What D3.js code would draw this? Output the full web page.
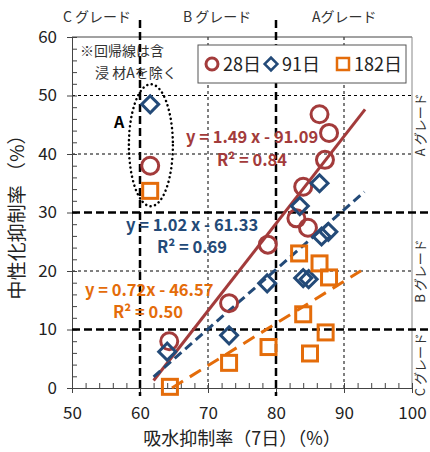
<!DOCTYPE html>
<html>
<head>
<meta charset="utf-8">
<script src="https://cdn.jsdelivr.net/npm/d3@7"></script>
<style>
  body { margin: 0; background: #fff; }
  svg text { font-family: "Noto Sans CJK JP", "Noto Sans", sans-serif; }
</style>
</head>
<body>
<div id="vis"></div>
<script>
// データ
const x28 = [61.5, 64.3, 73.1, 78.8, 83.0, 84.7, 84.0, 87.2, 87.8, 86.4];
const y28 = [38.0, 8.0, 14.5, 24.5, 29.0, 27.4, 34.4, 39.0, 43.6, 46.8];
const x91 = [61.5, 64.0, 73.1, 78.7, 83.5, 86.4, 86.7, 87.7, 84.0, 84.8];
const y91 = [48.5, 6.2, 9.0, 17.9, 31.1, 35.0, 25.9, 26.7, 18.8, 18.6];
const x182 = [61.5, 64.4, 73.1, 78.9, 83.4, 86.4, 87.8, 84.0, 87.3, 85.0];
const y182 = [33.7, 0.2, 4.3, 7.0, 23.0, 21.3, 18.9, 12.6, 9.5, 5.9];

const seriesNames = ['28日', '91日', '182日'];
const seriesColors = ['#a33b3b', '#234a78', '#e46c0a'];
// 回帰式 [傾き, 切片, x開始, x終了]
const fits = [
  [1.49, -91.09, 62, 93.1],
  [1.02, -61.33, 62, 93],
  [0.72, -46.57, 64.7, 92.5],
];
const fitLabels = [
  ['y = 1.49 x - 91.09', 'R² = 0.84'],
  ['y = 1.02 x - 61.33', 'R² = 0.69'],
  ['y = 0.72x - 46.57', 'R² = 0.50'],
];
const xTicks = [50, 60, 70, 80, 90, 100];
const yTicks = [0, 10, 20, 30, 40, 50, 60];

const WIDTH = 430;
const HEIGHT = 452;
const MARGIN = { top: 37, right: 18, bottom: 64, left: 72 };

const SVG = d3.select('#vis').append('svg')
  .attr('width', WIDTH).attr('height', HEIGHT);

const x = d3.scaleLinear().domain([50, 100]).range([MARGIN.left, WIDTH - MARGIN.right]);
const y = d3.scaleLinear().domain([0, 60]).range([HEIGHT - MARGIN.bottom, MARGIN.top]);

const x0 = x(50), x1 = x(100), y0 = y(0), y1 = y(60);

// 細いグリッド線
const grid = SVG.append('g');
[20, 40, 50].forEach((v) => {
  grid.append('line').attr('x1', x0).attr('x2', x1).attr('y1', y(v)).attr('y2', y(v))
    .attr('stroke', '#000').attr('stroke-width', 1).attr('stroke-dasharray', '3,3');
});
[70, 90].forEach((v) => {
  grid.append('line').attr('x1', x(v)).attr('x2', x(v)).attr('y1', y1).attr('y2', y0)
    .attr('stroke', '#000').attr('stroke-width', 1).attr('stroke-dasharray', '3,3');
});

// 枠
SVG.append('line').attr('x1', x0).attr('x2', x1).attr('y1', y1).attr('y2', y1)
  .attr('stroke', '#444').attr('stroke-width', 1);
SVG.append('line').attr('x1', x1).attr('x2', x1).attr('y1', y1).attr('y2', y0)
  .attr('stroke', '#888').attr('stroke-width', 1);

// 軸
const xAxis = d3.axisBottom(x).tickValues(d3.range(50, 101, 2)).tickSize(-5).tickFormat('');
SVG.append('g').attr('transform', `translate(0,${y0})`).call(xAxis)
  .call((g) => g.select('.domain').attr('stroke', '#444'))
  .call((g) => g.selectAll('.tick line').attr('stroke', '#444'));
SVG.append('g').attr('transform', `translate(0,${y0})`)
  .call(d3.axisBottom(x).tickValues(xTicks).tickSize(5).tickPadding(14))
  .call((g) => g.select('.domain').remove())
  .call((g) => g.selectAll('.tick line').attr('stroke', '#444'))
  .call((g) => g.selectAll('.tick text').attr('font-size', 17).attr('fill', '#222')
    .attr('font-family', '"Noto Sans", sans-serif'));

const yAxis = d3.axisLeft(y).tickValues(d3.range(0, 61, 2)).tickSize(-5).tickFormat('');
SVG.append('g').attr('transform', `translate(${x0},0)`).call(yAxis)
  .call((g) => g.select('.domain').attr('stroke', '#444'))
  .call((g) => g.selectAll('.tick line').attr('stroke', '#444'));
SVG.append('g').attr('transform', `translate(${x0},0)`)
  .call(d3.axisLeft(y).tickValues(yTicks).tickSize(5).tickPadding(10))
  .call((g) => g.select('.domain').remove())
  .call((g) => g.selectAll('.tick line').attr('stroke', '#444'))
  .call((g) => g.selectAll('.tick text').attr('font-size', 17).attr('fill', '#222')
    .attr('font-family', '"Noto Sans", sans-serif'));

// 太い破線（グレード境界）
const thick = SVG.append('g');
[60, 80].forEach((v) => {
  thick.append('line').attr('x1', x(v)).attr('x2', x(v)).attr('y1', 20).attr('y2', y0 + 8)
    .attr('stroke', '#000').attr('stroke-width', 2.5).attr('stroke-dasharray', '8,4');
});
[10, 30].forEach((v) => {
  thick.append('line').attr('x1', x0).attr('x2', 430).attr('y1', y(v)).attr('y2', y(v))
    .attr('stroke', '#000').attr('stroke-width', 2.5).attr('stroke-dasharray', '8,4');
});

// グレードラベル
const topLabels = [['C グレード', 63], ['B グレード', 183], ['Aグレード', 312]];
topLabels.forEach(([t, px]) => {
  SVG.append('text').attr('x', px).attr('y', 22).attr('font-size', 14).attr('fill', '#333').text(t);
});
const sideLabels = [['A グレード', 45], ['B グレード', 20], ['C グレード', 4]];
sideLabels.forEach(([t, v]) => {
  SVG.append('text').attr('transform', `translate(425,${y(v)}) rotate(-90)`)
    .attr('text-anchor', 'middle').attr('font-size', 13).attr('fill', '#333').text(t);
});

// 注記
SVG.append('text').attr('x', 80).attr('y', 56).attr('font-size', 14).attr('fill', '#333').text('※回帰線は含');
SVG.append('text').attr('x', 95).attr('y', 78).attr('font-size', 14).attr('fill', '#333').text('浸 材Aを除く');

// 楕円（浸材A）
SVG.append('ellipse').attr('cx', x(61.6)).attr('cy', y(41.5)).attr('rx', 22).attr('ry', 61)
  .attr('fill', 'none').attr('stroke', '#000').attr('stroke-width', 2.5)
  .attr('stroke-dasharray', '0.1,4.5').attr('stroke-linecap', 'round');
SVG.append('text').attr('x', 114).attr('y', 128).attr('font-size', 16).attr('font-weight', 'bold')
  .attr('font-family', '"Liberation Sans", sans-serif').text('A');

// 回帰直線
const dashes = [null, '9,5', '13,8'];
fits.forEach(([a, b, xs, xe], i) => {
  SVG.append('line')
    .attr('x1', x(xs)).attr('y1', y(a * xs + b))
    .attr('x2', x(xe)).attr('y2', y(a * xe + b))
    .attr('stroke', seriesColors[i]).attr('stroke-width', 3)
    .attr('stroke-dasharray', dashes[i]);
});

// 回帰式ラベル
const labelPos = [[186, 143, 217, 166], [126, 231, 157, 253], [85, 296, 113, 318]];
fitLabels.forEach(([eq, r2], i) => {
  const [ex, ey, rx, ry] = labelPos[i];
  const g = SVG.append('g').attr('fill', seriesColors[i]).attr('font-weight', 'bold')
    .attr('font-size', 16.5).attr('font-family', 'Lato, sans-serif');
  g.append('text').attr('x', ex).attr('y', ey).text(eq);
  g.append('text').attr('x', rx).attr('y', ry).text(r2);
});

// マーカー
function drawMarker(g, shape, cx, cy, color) {
  if (shape === 0) {
    g.append('circle').attr('cx', cx).attr('cy', cy).attr('r', 8.5)
      .attr('fill', 'none').attr('stroke', color).attr('stroke-width', 3);
  } else if (shape === 1) {
    g.append('rect').attr('x', -6).attr('y', -6).attr('width', 12).attr('height', 12)
      .attr('transform', `translate(${cx},${cy}) rotate(45)`)
      .attr('fill', 'none').attr('stroke', color).attr('stroke-width', 3);
  } else {
    g.append('rect').attr('x', cx - 7.5).attr('y', cy - 7.5).attr('width', 15).attr('height', 15)
      .attr('fill', 'none').attr('stroke', color).attr('stroke-width', 3);
  }
}

const pts = SVG.append('g');
[[x28, y28], [x91, y91], [x182, y182]].forEach(([xs, ys], i) => {
  xs.forEach((xv, j) => drawMarker(pts, i, x(xv), y(ys[j]), seriesColors[i]));
});

// 凡例
const legend = SVG.append('g');
legend.append('rect').attr('x', 198).attr('y', 45).attr('width', 208).attr('height', 38)
  .attr('fill', '#fff').attr('stroke', '#555').attr('stroke-width', 1);
const legendX = [212, 271, 343];
seriesNames.forEach((name, i) => {
  const lx = legendX[i];
  if (i === 0) {
    legend.append('circle').attr('cx', lx).attr('cy', 64).attr('r', 6)
      .attr('fill', 'none').attr('stroke', seriesColors[i]).attr('stroke-width', 3);
  } else if (i === 1) {
    legend.append('rect').attr('x', -4.5).attr('y', -4.5).attr('width', 9).attr('height', 9)
      .attr('transform', `translate(${lx},64) rotate(45)`)
      .attr('fill', 'none').attr('stroke', seriesColors[i]).attr('stroke-width', 2.5);
  } else {
    legend.append('rect').attr('x', lx - 6).attr('y', 58).attr('width', 12).attr('height', 12)
      .attr('fill', 'none').attr('stroke', seriesColors[i]).attr('stroke-width', 2.5);
  }
  legend.append('text').attr('x', lx + 11).attr('y', 71).attr('font-size', 18).attr('fill', '#222').text(name);
});

// 軸タイトル
SVG.append('text').attr('transform', `translate(24,${(y0 + y1) / 2}) rotate(-90)`)
  .attr('text-anchor', 'middle').attr('font-size', 19).attr('fill', '#222').text('中性化抑制率 （%）');
SVG.append('text').attr('x', 242).attr('y', 445)
  .attr('text-anchor', 'middle').attr('font-size', 18).attr('fill', '#222').text('吸水抑制率（7日）（%）');
</script>
</body>
</html>
